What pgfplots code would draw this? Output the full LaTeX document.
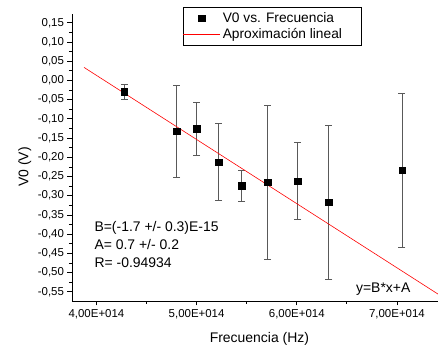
\documentclass[border=0pt]{standalone}
\usepackage{pgfplots}
\pgfplotsset{compat=1.18}
\usepackage{fontspec}
\setmainfont{Liberation Sans}
\pgfplotsset{
  marklegend/.style={legend image code/.code={\draw[mark repeat=2,mark phase=2,##1] plot coordinates {(0bp,0bp) (18.5bp,0bp) (37bp,0bp)};}},
  linelegend/.style={legend image code/.code={\draw[##1, draw=red] (0bp,0bp) -- (37bp,0bp);}},
}
\begin{document}
\begin{tikzpicture}[x=1bp,y=1bp]
\begin{axis}[
  scale only axis, width=366bp, height=287bp,
  xmin=3.756, xmax=7.41, ymin=-0.574, ymax=0.173,
  axis x line*=bottom, axis y line*=left,
  axis line style={line width=0.9pt, -},
  tick align=outside, tick style={black, line width=0.8pt},
  major tick length=4.5bp, minor tick length=3bp,
  xtick={4,5,6,7}, xticklabels={{4,00E+014},{5,00E+014},{6,00E+014},{7,00E+014}},
  minor xtick={4.5,5.5,6.5,7.5},
  ytick={-0.55,-0.5,...,0.16},
  minor ytick={-0.575,-0.525,...,0.2},
  yticklabel style={/pgf/number format/.cd, fixed, fixed zerofill, precision=2, use comma, assume math mode=true},
  ticklabel style={font=\fontsize{11.5}{13}\selectfont},
  xlabel={Frecuencia (Hz)}, ylabel={V0 (V)},
  label style={font=\fontsize{14}{16}\selectfont},
  xlabel style={at={(rel axis cs:0.512,-0.1429)}, anchor=base},
  ylabel style={at={(rel axis cs:-0.1194,0.467)}, anchor=base},
  legend style={at={(rel axis cs:0.303,1.0254)}, anchor=north west, draw=black, line width=0.6pt,
    font=\fontsize{13.8}{16}\selectfont, inner xsep=0pt, inner ysep=4.3bp, row sep=2bp,
    nodes={inner ysep=1.2bp}},
  legend cell align=left,
  clip=false,
]
\addplot[only marks, mark=square*, mark size=3.2bp, black, marklegend,
  error bars/.cd, y dir=both, y explicit,
  error bar style={line width=0.8pt, black!65},
  error mark options={rotate=90, mark size=3.5bp, line width=0.8pt, black!65}]
  coordinates {
  (4.28,-0.029) +- (0,0.020)
  (4.80,-0.132) +- (0,0.120)
  (5.00,-0.126) +- (0,0.070)
  (5.22,-0.212) +- (0,0.101)
  (5.45,-0.274) +- (0,0.040)
  (5.71,-0.265) +- (0,0.201)
  (6.01,-0.262) +- (0,0.100)
  (6.32,-0.317) +- (0,0.200)
  (7.05,-0.234) +- (0,0.200)
  };
\addlegendentry{V0 vs. Frecuencia}
\addplot[red, line width=0.6pt, linelegend] coordinates {(3.876,0.034) (7.41,-0.556)};
\addlegendentry{\hbox to 137bp{Aproximación lineal\hfil}}
\node[anchor=north west, align=left, font=\fontsize{14}{18}\selectfont, inner sep=0pt]
  at (rel axis cs:0.061,0.279) {B=(-1.7 +/- 0.3)E-15\\A= 0.7 +/- 0.2\\R= -0.94934};
\node[anchor=base east, font=\fontsize{14}{16}\selectfont, inner sep=0pt]
  at (rel axis cs:0.925,0.031) {y=B*x+A};
\end{axis}
\pgfresetboundingbox
\path ([xshift=-72bp,yshift=-45bp]current axis.south west) rectangle ([yshift=14bp]current axis.north east);
\end{tikzpicture}
\end{document}
